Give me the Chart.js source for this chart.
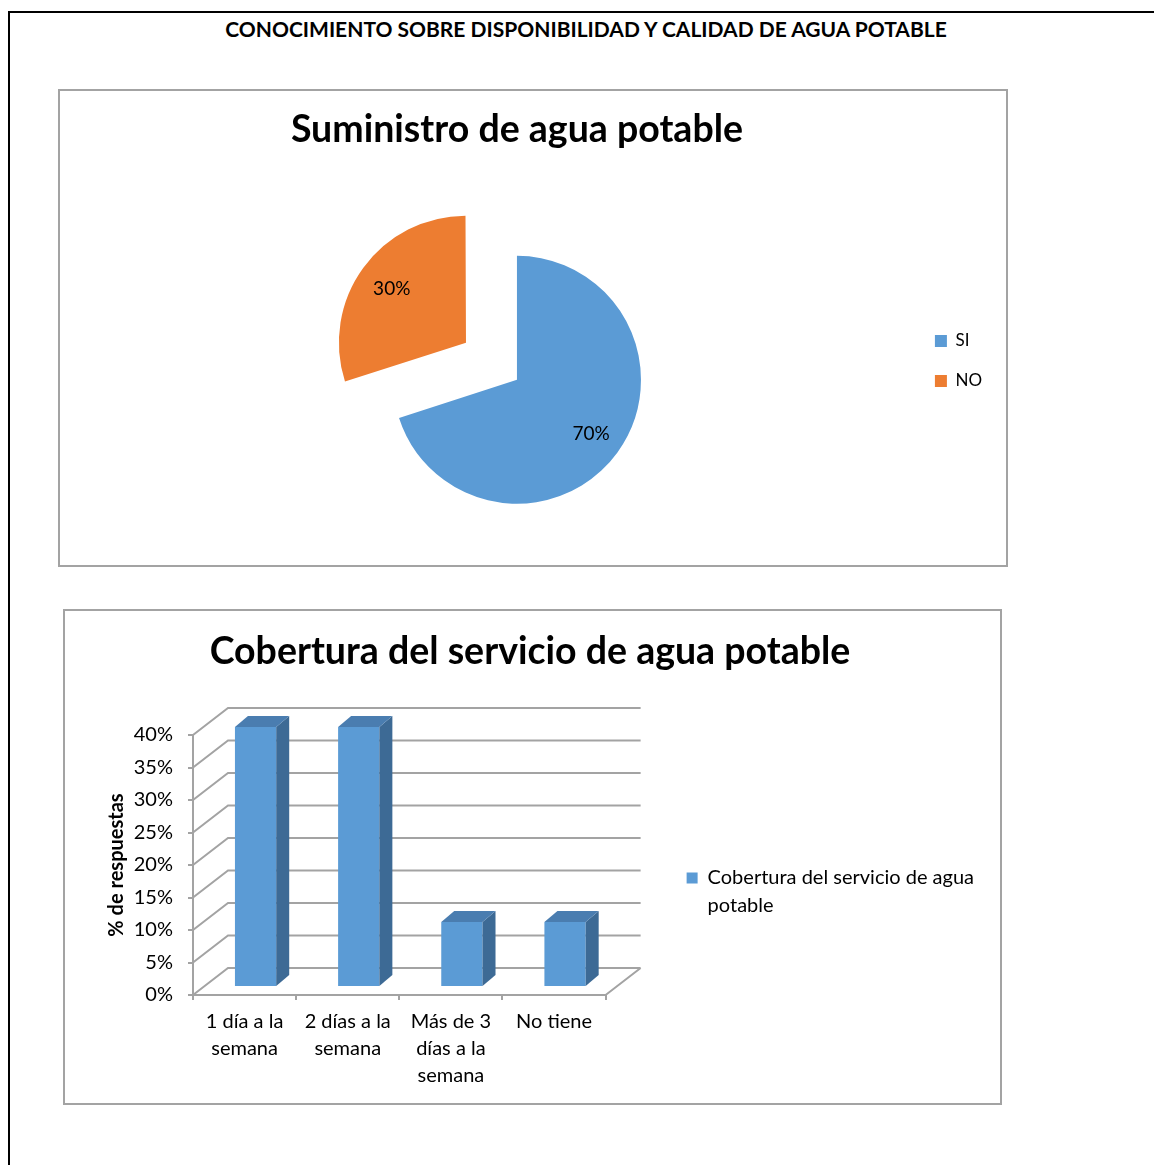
<!DOCTYPE html>
<html>
<head>
<meta charset="utf-8">
<title>Conocimiento sobre disponibilidad y calidad de agua potable</title>
<script src="https://cdn.jsdelivr.net/npm/chart.js@4.4.1/dist/chart.umd.min.js"></script>
<style>
  body {
    margin: 0;
    width: 1154px;
    height: 1165px;
    overflow: hidden;
    position: relative;
    background: #fff;
    font-family: Lato, sans-serif;
  }
  .frame {
    position: absolute;
    left: 8px;
    top: 11px;
    width: 1170px;
    height: 1180px;
    border-left: 2px solid #000;
    border-top: 2px solid #000;
  }
  .page-title {
    position: absolute;
    left: 0;
    width: 1172px;
    top: 16px;
    text-align: center;
    font-weight: bold;
    font-size: 21px;
    line-height: 26px;
    white-space: nowrap;
  }
  .box {
    position: absolute;
    box-sizing: border-box;
    border: 2px solid #a3a3a3;
  }
  #box1 { left: 58px; top: 89px; width: 950px; height: 478px; }
  #box2 { left: 63px; top: 609px; width: 939px; height: 496px; }
  canvas { position: absolute; }
  #pieChart { left: 60px; top: 90px; }
  #barChart { left: 64px; top: 610px; }
</style>
</head>
<body>
<div class="frame"></div>
<div class="page-title">CONOCIMIENTO SOBRE DISPONIBILIDAD Y CALIDAD DE AGUA POTABLE</div>
<div class="box" id="box1"></div>
<div class="box" id="box2"></div>
<canvas id="pieChart" width="946" height="521"></canvas>
<canvas id="barChart" width="936" height="555"></canvas>

<script>
// Suministro de agua potable (pie)
const pieLabels = ["SI", "NO"];
const pieValues = [70, 30];

// Cobertura del servicio (bar)
const barCategories = [
  ["1 día a la", "semana"],
  ["2 días a la", "semana"],
  ["Más de 3", "días a la", "semana"],
  ["No tiene"]
];
const barValues = [40, 40, 10, 10];
const seriesLabel = "Cobertura del servicio de agua potable";
const legendLines = ["Cobertura del servicio de agua", "potable"];

Chart.defaults.font.family = "Lato, sans-serif";
Chart.defaults.color = "#000";

// Depth of the fake 3D box and the bars (px).
const WALL_DEPTH = { x: 35, y: -27 };
const BAR_DEPTH = { x: 13, y: -11 };
const BAR_SHIFT = { x: 11, y: -8 };

// Percent labels inside the slices.
const pieLabelPlugin = {
  id: "pieLabels",
  afterDatasetsDraw(chart) {
    const { ctx } = chart;
    const meta = chart.getDatasetMeta(0);
    ctx.save();
    ctx.font = "19px Lato";
    ctx.fillStyle = "#000";
    ctx.textAlign = "center";
    ctx.textBaseline = "middle";
    meta.data.forEach((arc, i) => {
      const mid = (arc.startAngle + arc.endAngle) / 2;
      const dist = (arc.options.offset || 0) / 4 + arc.outerRadius * 0.74;
      ctx.fillText(pieValues[i] + "%", arc.x + Math.cos(mid) * dist, arc.y + Math.sin(mid) * dist);
    });
    ctx.restore();
  }
};

// Back wall, left wall and floor, plus top/side faces of the bars.
const box3dPlugin = {
  id: "box3d",
  beforeDatasetsDraw(chart) {
    const { ctx, chartArea: area, scales } = chart;
    const y = scales.y;
    ctx.save();
    ctx.strokeStyle = "#a3a3a3";
    ctx.lineWidth = 2;
    ctx.beginPath();
    y.ticks.forEach((t) => {
      const py = y.getPixelForValue(t.value);
      ctx.moveTo(area.left, py);
      ctx.lineTo(area.left + WALL_DEPTH.x, py + WALL_DEPTH.y);
      ctx.lineTo(area.right + WALL_DEPTH.x, py + WALL_DEPTH.y);
    });
    ctx.moveTo(area.right, area.bottom);
    ctx.lineTo(area.right + WALL_DEPTH.x, area.bottom + WALL_DEPTH.y);
    ctx.stroke();
    ctx.restore();

    // bars sit a bit inside the box
    ctx.save();
    ctx.translate(BAR_SHIFT.x, BAR_SHIFT.y);
  },
  afterDatasetsDraw(chart) {
    const { ctx } = chart;
    const meta = chart.getDatasetMeta(0);
    meta.data.forEach((bar) => {
      const left = bar.x - bar.width / 2;
      const right = bar.x + bar.width / 2;
      const top = bar.y;
      const bottom = bar.base;

      ctx.fillStyle = "#3d6a95";
      ctx.beginPath();
      ctx.moveTo(right, top);
      ctx.lineTo(right + BAR_DEPTH.x, top + BAR_DEPTH.y);
      ctx.lineTo(right + BAR_DEPTH.x, bottom + BAR_DEPTH.y);
      ctx.lineTo(right, bottom);
      ctx.closePath();
      ctx.fill();

      ctx.fillStyle = "#4a7db0";
      ctx.beginPath();
      ctx.moveTo(left, top);
      ctx.lineTo(left + BAR_DEPTH.x, top + BAR_DEPTH.y);
      ctx.lineTo(right + BAR_DEPTH.x, top + BAR_DEPTH.y);
      ctx.lineTo(right, top);
      ctx.closePath();
      ctx.fill();
    });
    ctx.restore();
  }
};

new Chart(document.getElementById("pieChart"), {
  type: "pie",
  data: {
    labels: pieLabels,
    datasets: [
      {
        data: pieValues,
        backgroundColor: ["#5b9bd5", "#ed7d31"],
        borderWidth: 0,
        offset: [0, 252],
        radius: 124
      }
    ]
  },
  plugins: [pieLabelPlugin],
  options: {
    responsive: false,
    animation: false,
    layout: { padding: { left: 62, right: 14, top: 21, bottom: 0 } },
    plugins: {
      title: {
        display: true,
        fullSize: false,
        text: "Suministro de agua potable",
        color: "#000",
        font: { size: 37.5, weight: "bold", lineHeight: 1 },
        padding: { top: 0, bottom: 0 }
      },
      legend: {
        position: "right",
        labels: {
          boxWidth: 12,
          boxHeight: 12,
          padding: 23,
          color: "#000",
          font: { size: 17 }
        }
      },
      tooltip: { enabled: false }
    }
  }
});

new Chart(document.getElementById("barChart"), {
  type: "bar",
  data: {
    labels: barCategories,
    datasets: [
      {
        label: seriesLabel,
        data: barValues,
        backgroundColor: "#5b9bd5",
        borderWidth: 0,
        categoryPercentage: 1,
        barPercentage: 0.4,
        clip: false
      }
    ]
  },
  plugins: [box3dPlugin],
  options: {
    responsive: false,
    animation: false,
    layout: { padding: { left: 12, right: 16, top: 17, bottom: 0 } },
    plugins: {
      title: {
        display: true,
        text: "Cobertura del servicio de agua potable",
        color: "#000",
        font: { size: 37.5, weight: "bold", lineHeight: 1 },
        padding: { top: 6, bottom: 64.5 }
      },
      legend: {
        position: "right",
        maxWidth: 381,
        labels: {
          boxWidth: 11,
          boxHeight: 11,
          padding: 81,
          color: "#000",
          font: { size: 20, lineHeight: 1.4 },
          generateLabels(chart) {
            const items = Chart.defaults.plugins.legend.labels.generateLabels(chart);
            items.forEach((item) => { item.text = legendLines; });
            return items;
          }
        }
      },
      tooltip: { enabled: false }
    },
    scales: {
      x: {
        grid: { drawOnChartArea: false, tickLength: 5, color: "#a3a3a3", lineWidth: 2 },
        border: { color: "#a3a3a3", width: 2 },
        ticks: {
          padding: 8,
          maxRotation: 0,
          autoSkip: false,
          font: { size: 20, lineHeight: 1.35 }
        },
        afterFit(scale) {
          scale.height = 170;
        }
      },
      y: {
        min: 0,
        max: 40,
        grid: { drawOnChartArea: false, tickLength: 5, color: "#a3a3a3", lineWidth: 2 },
        border: { color: "#a3a3a3", width: 2 },
        ticks: {
          stepSize: 5,
          padding: 15,
          font: { size: 20 },
          callback: (v) => v + "%"
        },
        title: {
          display: true,
          text: "% de respuestas",
          font: { size: 20, weight: "bold" },
          padding: { top: 29, bottom: 0 }
        },
        afterFit(scale) {
          scale.width = 117;
        }
      }
    }
  }
});
</script>
</body>
</html>
